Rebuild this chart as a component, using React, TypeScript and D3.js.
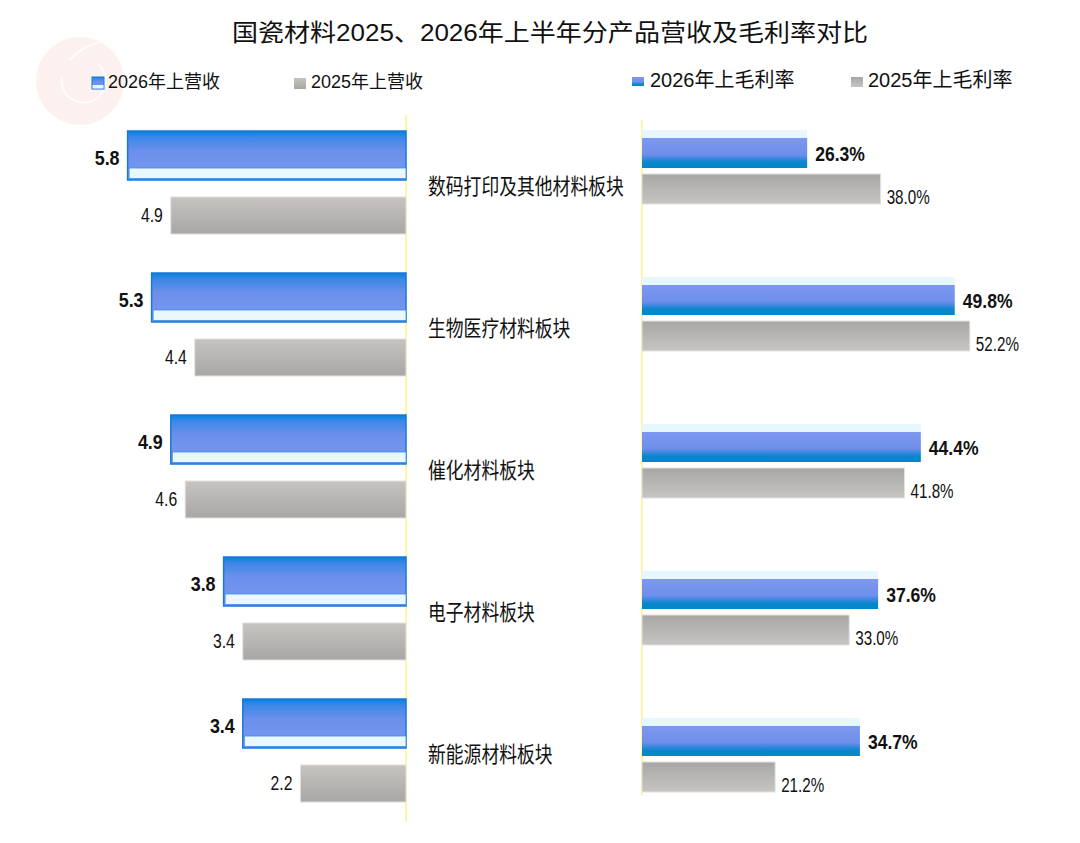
import * as d3 from "d3";

const categories = ["数码打印及其他材料板块", "生物医疗材料板块", "催化材料板块", "电子材料板块", "新能源材料板块"];
const revenue2026 = [5.8, 5.3, 4.9, 3.8, 3.4];
const revenue2025 = [4.9, 4.4, 4.6, 3.4, 2.2];
const margin2026 = [26.3, 49.8, 44.4, 37.6, 34.7];
const margin2025 = [38.0, 52.2, 41.8, 33.0, 21.2];
const legendLabels = ["2026年上营收", "2025年上营收", "2026年上毛利率", "2025年上毛利率"];
const title = "国瓷材料2025、2026年上半年分产品营收及毛利率对比";

const W = 1080;
const H = 843;
const cjk = '"Liberation Sans", "Noto Sans CJK SC", sans-serif';
const narrow = '"Liberation Sans Narrow", "Liberation Sans", Arial, sans-serif';

function NText(props: { x: number; y: number; anchor: string; size: number; bold?: boolean; sx: number; children: string }) {
  return (
    <text
      transform={`translate(${props.x},${props.y}) scale(${props.sx},1)`}
      textAnchor={props.anchor as any}
      fontSize={props.size}
      fontWeight={props.bold ? "bold" : "normal"}
      fontFamily={narrow}
      fill="#111"
    >
      {props.children}
    </text>
  );
}

export default function App() {
  // left panel: revenue, bars grow to the left from the axis
  const xLeft = d3.scaleLinear().domain([0, 6]).range([406, 118]);
  const yLeft = d3.scalePoint<string>().domain(categories).range([131, 699]);
  // right panel: gross margin, bars grow to the right
  const xRight = d3.scaleLinear().domain([0, 60]).range([642, 642 + 6.28 * 60]);
  const yRight = d3.scalePoint<string>().domain(categories).range([130, 718]);

  const lbH = 49;
  const lgGap = 17;
  const lgH = 37;
  const rBand = 8;
  const rbH = 30;
  const rgH = 30;

  return (
    <svg
      width={W}
      height={H}
      viewBox={`0 0 ${W} ${H}`}
      style={{ position: "absolute", left: 0, top: 0, background: "#fff" }}
    >
      <defs>
        <linearGradient id="blueL" x1="0" y1="0" x2="0" y2="1">
          <stop offset="0%" stopColor="#0080e0" />
          <stop offset="12%" stopColor="#3a88e6" />
          <stop offset="40%" stopColor="#6b8fec" />
          <stop offset="100%" stopColor="#7b99f0" />
        </linearGradient>
        <linearGradient id="blueR" x1="0" y1="0" x2="0" y2="1">
          <stop offset="0%" stopColor="#7f98f0" />
          <stop offset="55%" stopColor="#6d8fea" />
          <stop offset="72%" stopColor="#2f86dc" />
          <stop offset="80%" stopColor="#0a88cc" />
          <stop offset="100%" stopColor="#0088c8" />
        </linearGradient>
        <linearGradient id="grayL" x1="0" y1="0" x2="0" y2="1">
          <stop offset="0%" stopColor="#c6c3c1" />
          <stop offset="100%" stopColor="#a9a7a5" />
        </linearGradient>
        <linearGradient id="grayR" x1="0" y1="0" x2="0" y2="1">
          <stop offset="0%" stopColor="#a9a7a5" />
          <stop offset="100%" stopColor="#c7c5c3" />
        </linearGradient>
      </defs>

      {/* faint watermark */}
      <circle cx={80} cy={81} r={44} fill="#fdf1ef" />
      <path d="M62,76 a22,22 0 1,0 36,-12 M70,60 q12,-14 30,-18" fill="none" stroke="#fff" strokeWidth={2} opacity={0.8} />

      <text x={232} y={41} fontSize={24} fontFamily={cjk} textLength={636} lengthAdjust="spacingAndGlyphs" fill="#111">
        {title}
      </text>

      {/* legends */}
      <rect x={92} y={77} width={12} height={12} fill="url(#blueL)" stroke="#1a78d8" strokeWidth={1} />
      <rect x={92.5} y={85} width={11} height={3.5} fill="#e6f8fe" />
      <text x={108} y={88} fontSize={18} fontFamily={cjk} fill="#111">{legendLabels[0]}</text>
      <rect x={294} y={78} width={12} height={11} fill="url(#grayL)" />
      <text x={311} y={88} fontSize={18} fontFamily={cjk} fill="#111">{legendLabels[1]}</text>
      <rect x={632} y={77} width={12} height={9} fill="url(#blueR)" />
      <text x={650} y={87} fontSize={20} fontFamily={cjk} fill="#111">{legendLabels[2]}</text>
      <rect x={851} y={77} width={12} height={10} fill="url(#grayR)" />
      <text x={868} y={87} fontSize={20} fontFamily={cjk} fill="#111">{legendLabels[3]}</text>

      {/* axes */}
      <line x1={406} x2={406} y1={115} y2={822} stroke="#fff06a" strokeWidth={1.2} />
      <line x1={642} x2={642} y1={120} y2={795} stroke="#fff06a" strokeWidth={1.2} />

      {/* left revenue bars */}
      {categories.map((c, i) => {
        const y0 = yLeft(c) ?? 0;
        const xb = xLeft(revenue2026[i]);
        const xg = xLeft(revenue2025[i]);
        return (
          <g key={`l-${c}`}>
            <rect x={xb} y={y0} width={xLeft(0) - xb} height={lbH} fill="url(#blueL)" stroke="#1a78d8" strokeWidth={1.5} />
            <rect x={xb + 1.5} y={y0 + lbH - 12} width={xLeft(0) - xb - 1.5} height={10.5} fill="#e8f8fe" stroke="#3f8ee4" strokeWidth={0.8} />
            <NText x={xb - 8} y={y0 + 34} anchor="end" size={19.5} bold sx={0.92}>
              {revenue2026[i].toFixed(1)}
            </NText>
            <rect x={xg} y={y0 + lbH + lgGap} width={xLeft(0) - xg} height={lgH} fill="url(#grayL)" stroke="#e2e0de" strokeWidth={1} />
            <NText x={xg - 8} y={y0 + lbH + lgGap + 25} anchor="end" size={21} sx={0.75}>
              {revenue2025[i].toFixed(1)}
            </NText>
            <text
              x={428}
              y={y0 + 63}
              fontSize={22}
              fontFamily={cjk}
              textLength={c.length * 17.8}
              lengthAdjust="spacingAndGlyphs"
              fill="#111"
            >
              {c}
            </text>
          </g>
        );
      })}

      {/* right gross margin bars */}
      {categories.map((c, i) => {
        const y0 = yRight(c) ?? 0;
        const wb = xRight(margin2026[i]) - xRight(0);
        const wg = xRight(margin2025[i]) - xRight(0);
        return (
          <g key={`r-${c}`}>
            <rect x={xRight(0)} y={y0} width={wb} height={rBand} fill="#e6f8fe" />
            <rect x={xRight(0)} y={y0 + rBand} width={wb} height={rbH} fill="url(#blueR)" />
            <NText x={xRight(margin2026[i]) + 8} y={y0 + rBand + rbH / 2 + 8} anchor="start" size={19.5} bold sx={0.9}>
              {`${margin2026[i].toFixed(1)}%`}
            </NText>
            <rect x={xRight(0)} y={y0 + rBand + rbH + 6} width={wg} height={rgH} fill="url(#grayR)" stroke="#e4e2e0" strokeWidth={1} />
            <NText x={xRight(margin2025[i]) + 6} y={y0 + rBand + rbH + 6 + rgH} anchor="start" size={19.5} sx={0.78}>
              {`${margin2025[i].toFixed(1)}%`}
            </NText>
          </g>
        );
      })}
    </svg>
  );
}
